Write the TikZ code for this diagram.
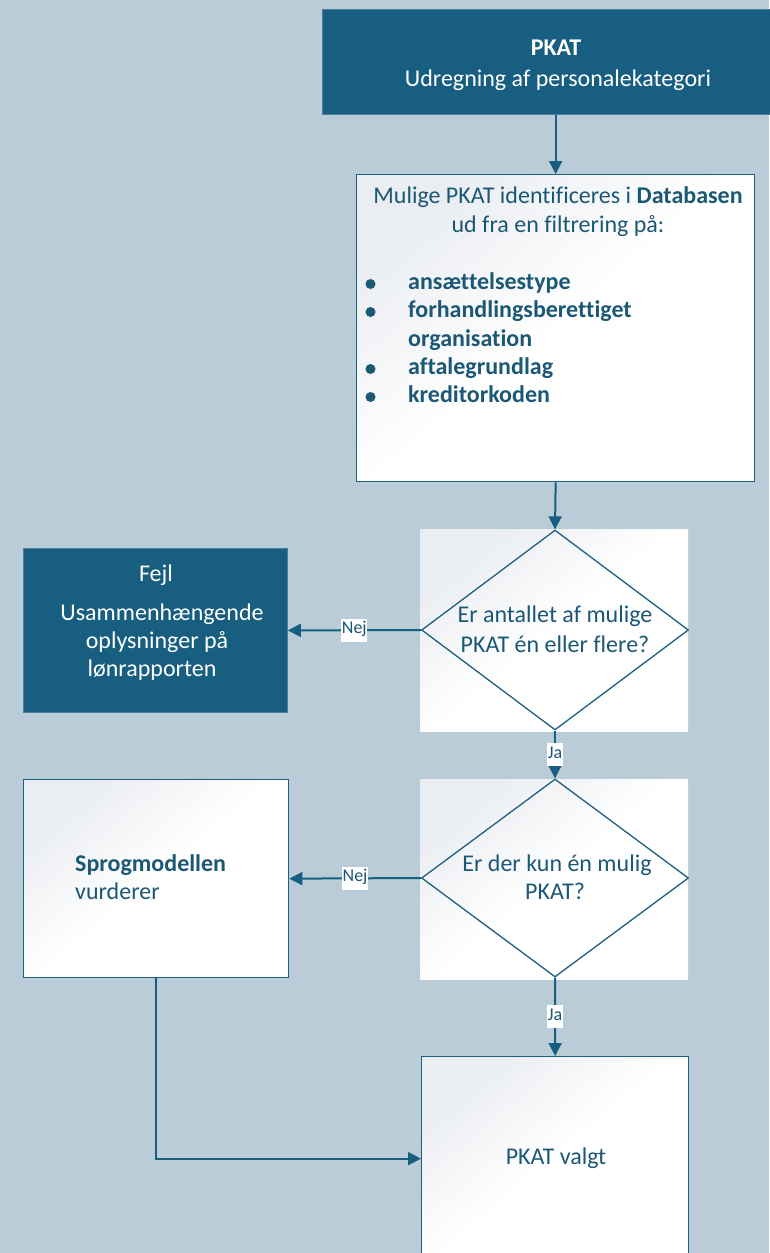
\documentclass[tikz,border=0pt]{standalone}
\usepackage{fontspec}
\setmainfont{Carlito}[Ligatures=NoCommon]
\usetikzlibrary{arrows.meta,shapes.geometric}
\definecolor{bg}{RGB}{185,204,215}
\definecolor{darkteal}{RGB}{23,94,128}
\definecolor{tealtext}{RGB}{27,88,118}
\definecolor{edge}{RGB}{30,96,128}
\definecolor{shadegray}{RGB}{234,237,241}
\begin{document}
\begin{tikzpicture}[x=1pt,y=-1pt,
  every node/.style={font=\fontsize{24}{28}\selectfont},
  darkbox/.style={draw=edge!70!bg, line width=0.8pt, fill=darkteal, inner sep=0pt, anchor=north west},
  lightbox/.style={draw=edge, line width=1.3pt, top color=shadegray, bottom color=white, middle color=white, shading angle=40, inner sep=0pt, anchor=north west},
  whitesq/.style={draw=none, top color=shadegray, bottom color=white, middle color=white, shading angle=40, inner sep=0pt, anchor=north west},
  decision/.style={diamond, draw=edge, line width=1.3pt, inner sep=0pt, fill=none},
  wtext/.style={text=white, inner sep=0pt, text height=17pt, text depth=5pt},
  ttext/.style={text=tealtext, inner sep=0pt, text height=17pt, text depth=5pt},
  bulletdot/.style={circle, fill=tealtext, draw=none, inner sep=0pt, minimum size=10pt},
  arr/.style={draw=darkteal, line width=2pt, -{Triangle[length=13pt,width=13pt]}},
  lbl/.style={fill=white, text=tealtext, inner xsep=0.5pt, inner ysep=0pt, text height=15pt, text depth=8pt, font=\fontsize{18}{20}\selectfont}
]
\useasboundingbox[fill=bg] (0,0) rectangle (769,1253);

% top box
\node[darkbox, minimum width=468pt, minimum height=105pt] (top) at (322,9) {};
\node[wtext, font=\fontsize{24}{28}\selectfont\bfseries] (t1) at (556,49) {PKAT};
\node[wtext] (t2) at (558,80) {Udregning af personalekategori};

% database box
\node[lightbox, minimum width=398pt, minimum height=307pt] (db) at (356,174) {};
\node[ttext] (db1) at (558,197) {Mulige PKAT identificeres i \textbf{Databasen}};
\node[ttext] (db2) at (558,226) {ud fra en filtrering på:};
\foreach \y/\t/\b in {283/ansættelsestype/1, 311/forhandlingsberettiget/1, 340/organisation/0, 368/aftalegrundlag/1, 396/kreditorkoden/1}{
  \node[ttext, anchor=west, font=\fontsize{24}{28}\selectfont\bfseries] (b\y) at (408,\y) {\t};
  \ifnum\b=1 \node[bulletdot] (bu\y) at (370.5,\y+1) {};\fi
}

% decision 1
\node[whitesq, minimum width=268pt, minimum height=202pt] (d1bg) at (420,529) {};
\node[decision, minimum width=267pt, minimum height=200pt] (d1) at (555,630) {};
\node[ttext] (d1a) at (555,616) {Er antallet af mulige};
\node[ttext] (d1b) at (555,646) {PKAT én eller flere?};

% error box
\node[darkbox, minimum width=264pt, minimum height=164pt] (fejl) at (23,548) {};
\node[wtext] (f1) at (156,575) {Fejl};
\node[wtext] (f2) at (162,614) {Usammenhængende};
\node[wtext] (f3) at (157,642) {oplysninger på};
\node[wtext] (f4) at (152,670) {lønrapporten};

% decision 2
\node[whitesq, minimum width=268pt, minimum height=200pt] (d2bg) at (420,779) {};
\node[decision, minimum width=267pt, minimum height=198pt] (d2) at (555,878) {};
\node[ttext] (d2a) at (557,865) {Er der kun én mulig};
\node[ttext] (d2b) at (555,893) {PKAT?};

% sprogmodellen
\node[lightbox, minimum width=265pt, minimum height=198pt] (sprog) at (23,779) {};
\node[ttext, anchor=west, font=\fontsize{24}{28}\selectfont\bfseries] (s1) at (75,865) {Sprogmodellen};
\node[ttext, anchor=west] (s2) at (75,893) {vurderer};

% PKAT valgt
\node[lightbox, minimum width=267pt, minimum height=204pt] (valgt) at (421,1056) {};
\node[ttext] (v1) at (556,1158) {PKAT valgt};

% connectors
\draw[arr] (top.south -| db.north) -- (db.north);
\draw[arr] (db.south) -- (d1.north);
\draw[arr] (d1.west) -- node[lbl] {Nej} (fejl.east);
\draw[arr] (d1.south) -- node[lbl] {Ja} (d2.north);
\draw[arr] (d2.west) -- node[lbl] {Nej} (sprog.east);
\draw[arr] (d2.south) -- node[lbl] {Ja} (valgt.north);
\draw[arr] (sprog.south) |- (valgt.west);
\end{tikzpicture}
\end{document}
